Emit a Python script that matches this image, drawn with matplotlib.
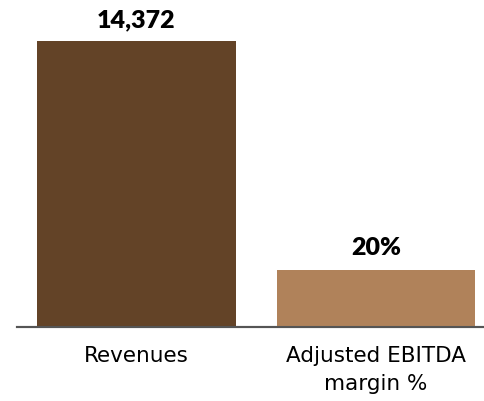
import matplotlib.pyplot as plt

# Data
categories = ['Revenues', 'Adjusted EBITDA\nmargin %']
values = [14372, 20]
value_labels = ['14,372', '20%']
colors = ['#634327', '#b0825a']

fig = plt.figure(figsize=(4.85, 4.01), dpi=100)
W, H = 485, 401
# axes from x=17..485 px, y=0..327 px (from top)
ax = fig.add_axes([17 / W, (H - 327) / H, (485 - 17) / W, 327 / H])
ax2 = ax.twinx()

# each bar on its own scale (revenues vs percent)
ax.bar(0, values[0], width=0.83, color=colors[0])
ax2.bar(1, values[1], width=0.83, color=colors[1])

ax.set_xlim(-0.499, 1.455)
ax.set_ylim(0, values[0] * 327 / 286)
ax2.set_ylim(0, values[1] * 327 / 57)

ax.annotate(value_labels[0], (0, values[0]), xytext=(0, 7), textcoords='offset points',
            ha='center', va='bottom', fontsize=18, fontweight='heavy', family='Lato')
ax2.annotate(value_labels[1], (1, values[1]), xytext=(0, 8), textcoords='offset points',
             ha='center', va='bottom', fontsize=18, fontweight='heavy', family='Lato')

ax.set_xticks([0, 1])
ax.set_xticklabels(categories, fontsize=15.5, linespacing=1.5, family='DejaVu Sans')
ax.tick_params(axis='x', length=0, pad=14)
ax.set_yticks([])
ax2.set_yticks([])

for a in (ax, ax2):
    for s in ['top', 'right', 'left']:
        a.spines[s].set_visible(False)
    a.spines['bottom'].set_color('#555555')
    a.spines['bottom'].set_linewidth(1.5)

fig.savefig('out.png', dpi=100)
